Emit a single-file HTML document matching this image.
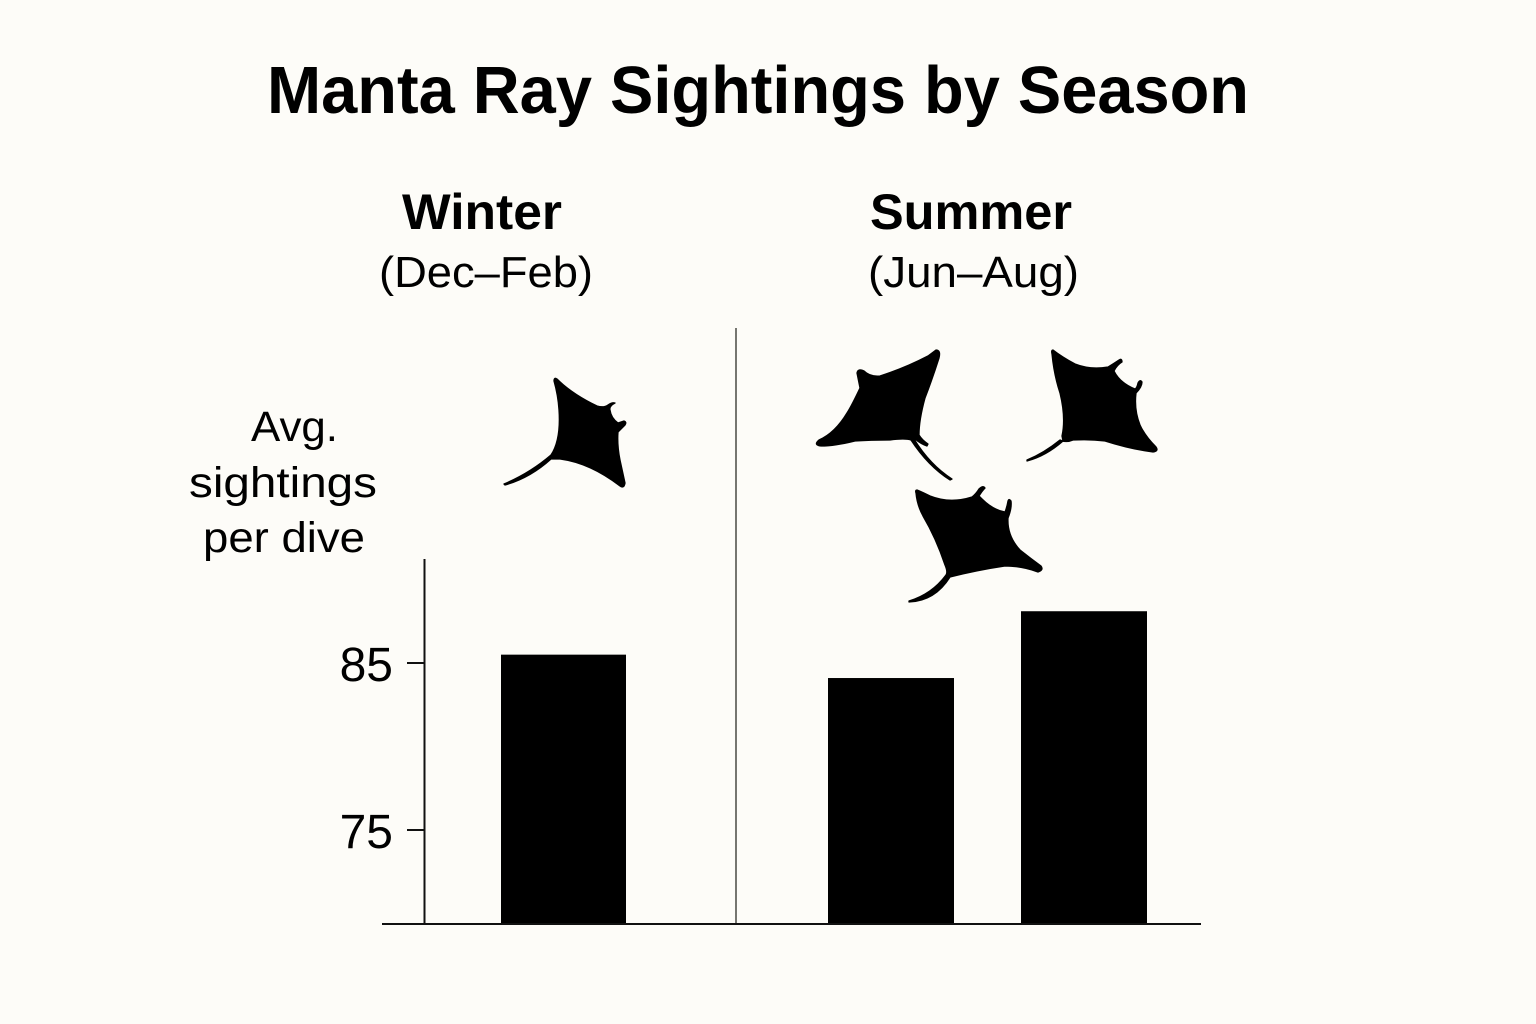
<!DOCTYPE html>
<html lang="en">
<head>
<meta charset="utf-8">
<title>Manta Ray Sightings by Season</title>
<style>
html,body{margin:0;padding:0;background:#fdfcf8;}
svg{display:block;}
text{font-family:"Liberation Sans",Arial,sans-serif;fill:#000;}
.title{font-size:67px;font-weight:700;}
.season{font-size:50px;font-weight:700;}
.months{font-size:44px;}
.ylab{font-size:43px;}
.tick{font-size:48px;}
.ray{fill:#000;stroke:#000;stroke-width:1.3;stroke-linejoin:round;}
</style>
</head>
<body>
<svg id="chart" width="1536" height="1024" viewBox="0 0 1536 1024" xmlns="http://www.w3.org/2000/svg">
  <rect x="0" y="0" width="1536" height="1024" fill="#fdfcf8"/>
  <text class="title" x="267" y="113" textLength="982" lengthAdjust="spacingAndGlyphs">Manta Ray Sightings by Season</text>

  <text class="season" x="402" y="229" textLength="160" lengthAdjust="spacingAndGlyphs">Winter</text>
  <text class="months" x="379" y="287" textLength="214" lengthAdjust="spacingAndGlyphs">(Dec–Feb)</text>
  <text class="season" x="870" y="229" textLength="202" lengthAdjust="spacingAndGlyphs">Summer</text>
  <text class="months" x="868" y="287" textLength="211" lengthAdjust="spacingAndGlyphs">(Jun–Aug)</text>

  <text class="ylab" x="251" y="441" textLength="87" lengthAdjust="spacingAndGlyphs">Avg.</text>
  <text class="ylab" x="189" y="497" textLength="188" lengthAdjust="spacingAndGlyphs">sightings</text>
  <text class="ylab" x="203" y="552" textLength="162" lengthAdjust="spacingAndGlyphs">per dive</text>

  <line x1="736" y1="328" x2="736" y2="924" stroke="#55554f" stroke-width="1.6"/>
  <g id="bars"></g>
  <line x1="424.5" y1="559" x2="424.5" y2="924" stroke="#111" stroke-width="2"/>
  <g id="ticks"></g>
  <line x1="382" y1="924" x2="1201" y2="924" stroke="#111" stroke-width="2"/>

  <path class="ray" d="M554 381 Q554 377 557 379 Q572 394 597 406 Q604 408 608 405 Q612 402 615 403 Q609 406 610 410 Q611 418 618 423 L624 421 Q627 422 625 425 L618 432 Q617 445 620 460 L625 483 Q624 489 620 486 Q590 463 560 459 L551 459 Q530 478 505 485 L504 484 Q530 473 551 455 Q561 440 559 410 Q558 395 554 381Z"/>
  <path class="ray" d="M936 350 Q941 350 939 358 Q932 380 925 398 Q919 420 919 435 Q922 440 928 444 L927 446 Q921 444 915 439 L914 439 Q930 465 952 479 L950 480 Q928 466 911 440 Q905 438 890 440 Q870 440 855 441 Q835 446 821 446 Q813 445 819 440 Q835 433 847 413 Q852 405 860 388 Q858 378 857 373 Q858 368 864 371 Q870 377 880 376 Q905 368 928 356Z"/>
  <path class="ray" d="M1053 350 Q1051 350 1052 354 Q1054 375 1060 393 Q1066 418 1062 436 L1063 441 Q1046 456 1027 461 L1027 460 Q1044 453 1060 440 Q1066 443 1073 440 Q1090 439 1105 441 Q1130 449 1153 452 Q1159 451 1156 447 Q1145 436 1140 425 Q1134 410 1136 393 Q1142 387 1142 382 Q1140 379 1138 383 Q1137 388 1135 389 Q1120 383 1114 371 Q1117 365 1122 362 Q1122 358 1119 360 Q1113 364 1108 367 Q1090 370 1075 364 Q1062 357 1053 350Z"/>
  <path class="ray" d="M917 490 Q915 490 916 493 Q917 505 923 516 Q936 538 945 565 Q948 572 946 575 Q932 594 909 601 L909 602 Q935 601 950 577 Q978 570 1005 566 Q1022 566 1038 572 Q1044 570 1041 566 Q1030 558 1020 550 Q1007 536 1008 518 Q1012 508 1011 501 Q1009 498 1008 501 Q1007 507 1005 512 Q993 510 982 499 Q980 497 979 496 Q982 491 985 488 Q983 485 979 489 Q976 494 972 497 Q950 504 930 496 Q922 492 917 490Z"/>

  <script>
    const categories = ['Winter', 'Summer early', 'Summer late'];
    const seriesValues = [85.5, 84.1, 88.1];
    const tickValues = [75, 85];
    const tickLabels = ['75', '85'];

    const SVG_NS = 'http://www.w3.org/2000/svg';
    const BASE_Y = 924;
    function yScale(v) {
      return 830 - (v - 75) * 16.7;
    }
    function xScale(i) {
      // first bar sits left of the divider; later bars share an even step
      return i === 0 ? 501 : 828 + (i - 1) * 193;
    }
    const barsGroup = document.getElementById('bars');
    categories.forEach(function (cat, i) {
      const r = document.createElementNS(SVG_NS, 'rect');
      r.setAttribute('x', xScale(i));
      r.setAttribute('y', yScale(seriesValues[i]));
      r.setAttribute('width', i === 0 ? 125 : 126);
      r.setAttribute('height', BASE_Y - yScale(seriesValues[i]));
      r.setAttribute('fill', '#000');
      
      
      barsGroup.appendChild(r);
    });
    const ticksGroup = document.getElementById('ticks');
    tickValues.forEach(function (v, i) {
      const l = document.createElementNS(SVG_NS, 'line');
      l.setAttribute('x1', 407);
      l.setAttribute('x2', 424);
      l.setAttribute('y1', yScale(v));
      l.setAttribute('y2', yScale(v));
      l.setAttribute('stroke', '#111');
      l.setAttribute('stroke-width', 2);
      
      
      ticksGroup.appendChild(l);
      const t = document.createElementNS(SVG_NS, 'text');
      t.setAttribute('class', 'tick');
      t.setAttribute('x', 393);
      t.setAttribute('y', yScale(v) + 18);
      t.setAttribute('text-anchor', 'end');
      
      
      t.textContent = tickLabels[i];
      ticksGroup.appendChild(t);
    });
  </script>
</svg>
</body>
</html>
